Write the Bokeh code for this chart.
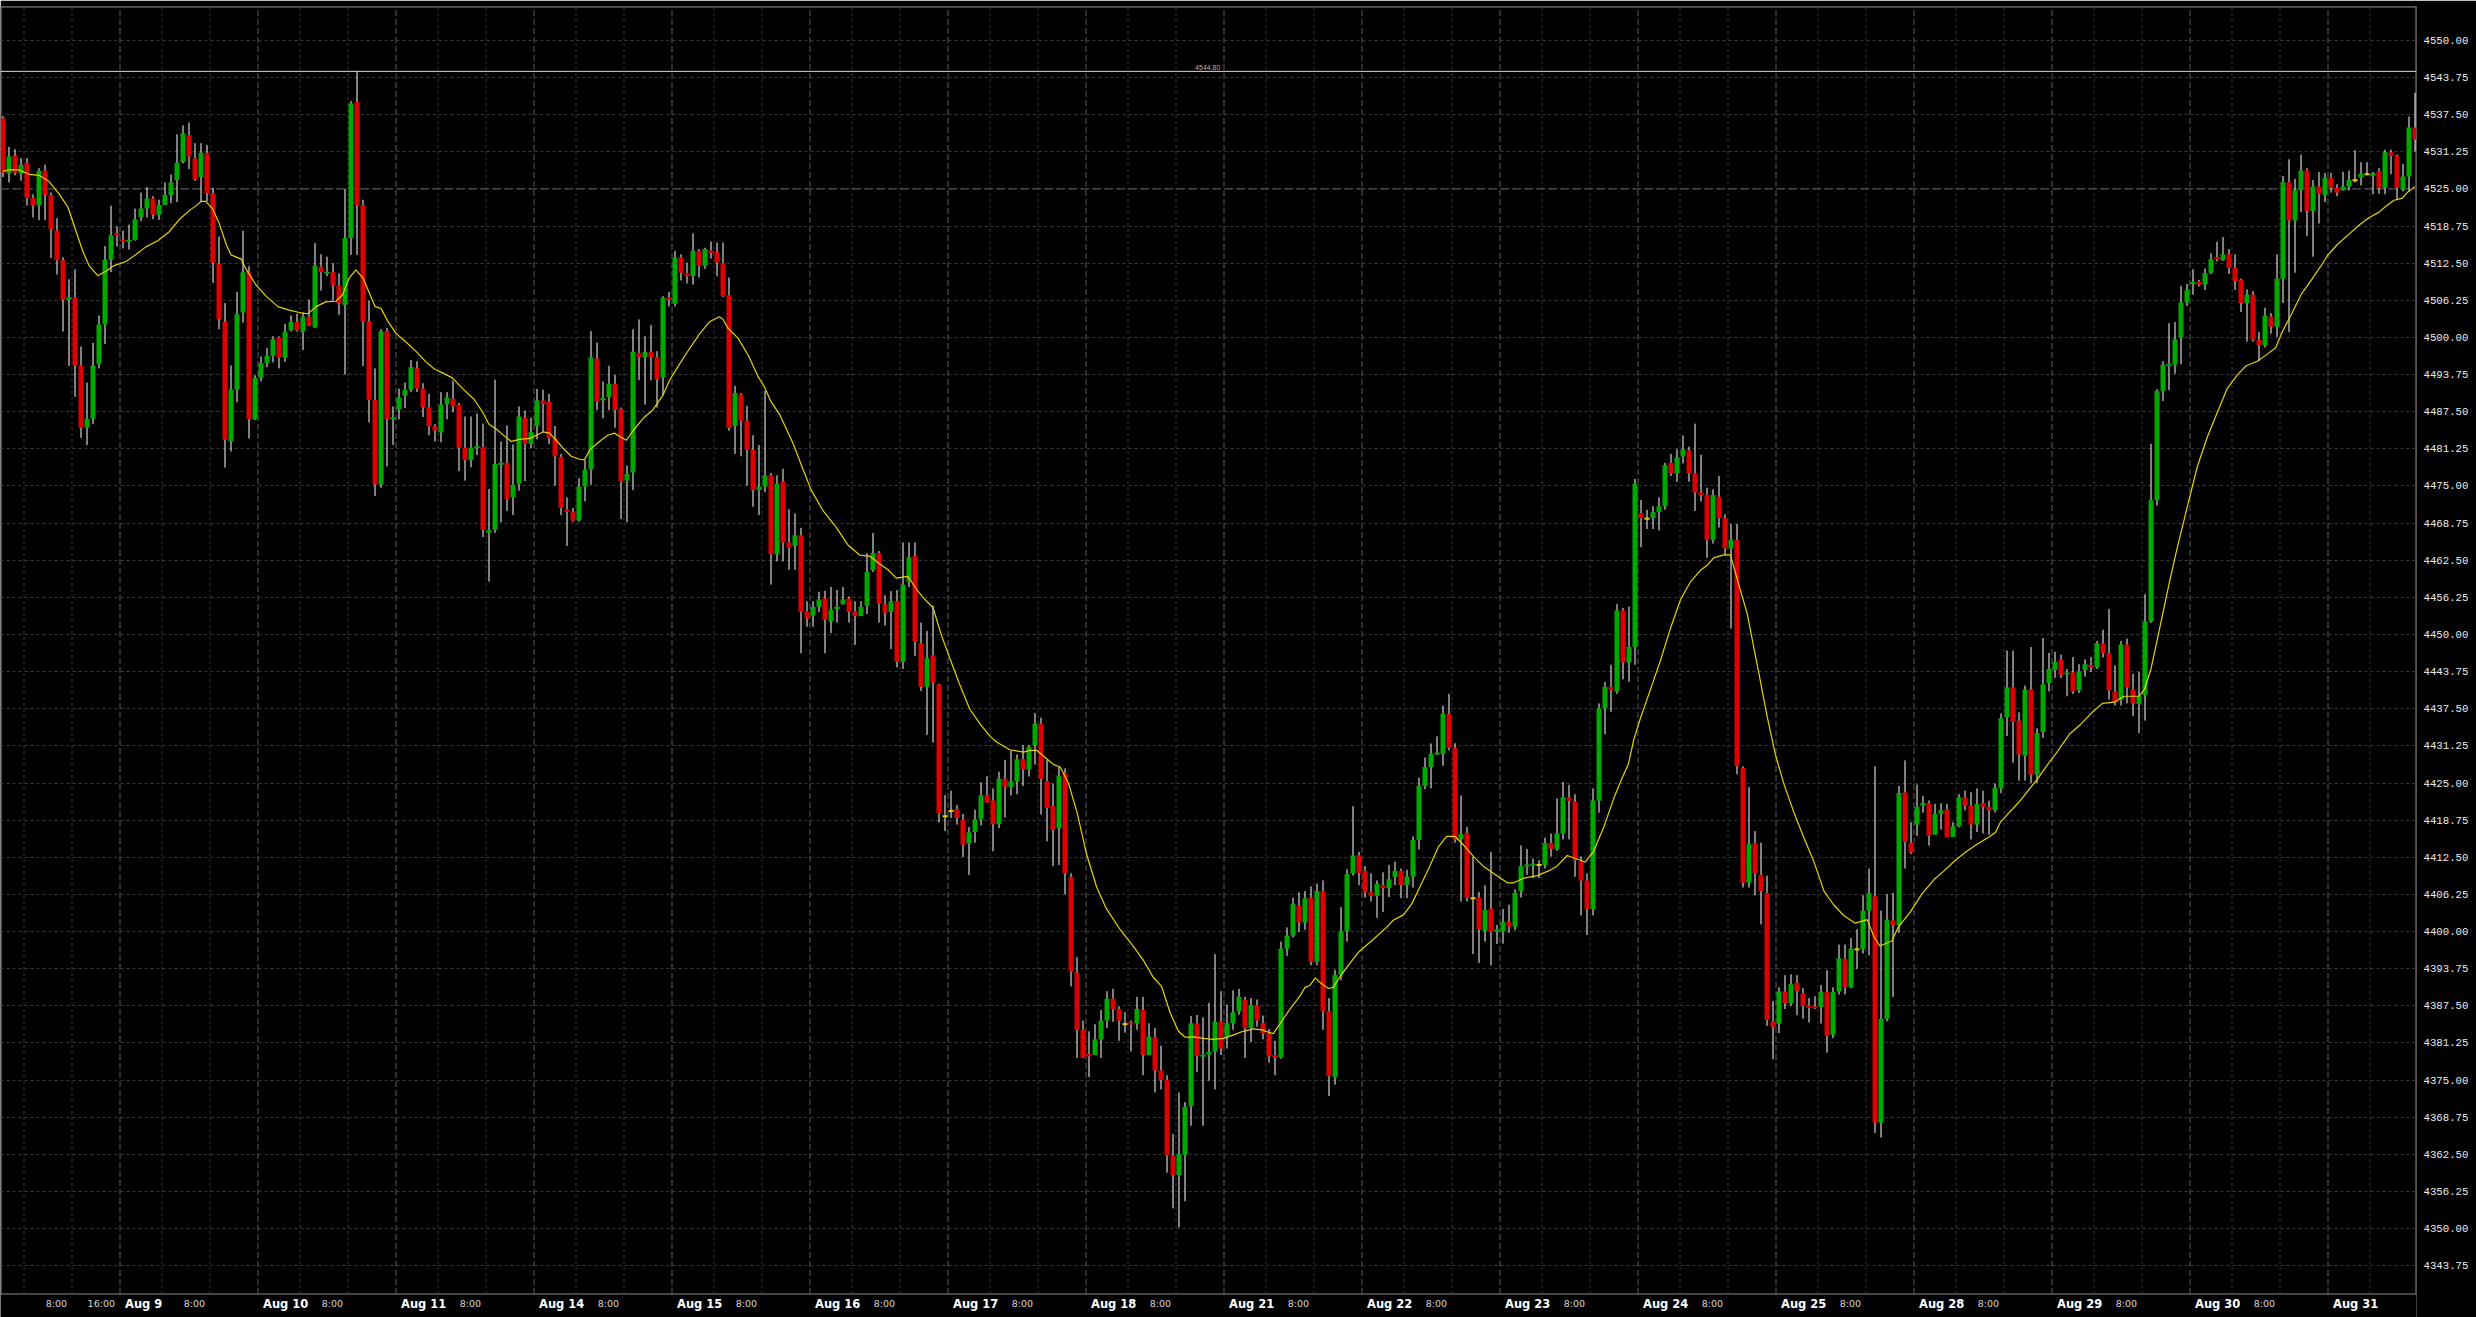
from bokeh.plotting import figure
from bokeh.models import ColumnDataSource, FixedTicker, Span, Label, NumeralTickFormatter
from bokeh.core.properties import value
from bokeh.embed import file_html
from bokeh.resources import INLINE

# ---------------- data (hourly bars, index 0 = first bar) ----------------
opens = [
 4536.9, 4527.6, 4530.6, 4527.6, 4529.4, 4523.5, 4522.2, 4528.05, 4524.0, 4518.0,
 4513.0, 4506.4, 4506.7, 4495.3, 4484.8, 4486.3, 4495.5, 4502.2, 4513.1, 4517.5,
 4516.4, 4516.2, 4516.4, 4520.2, 4521.7, 4523.4, 4520.65, 4522.3, 4524.0, 4526.5,
 4529.55, 4534.1, 4530.15, 4527.0, 4531.1, 4524.3, 4512.4, 4502.6, 4482.5, 4491.25,
 4504.2, 4511.0, 4486.25, 4493.2, 4495.7, 4496.9, 4500.0, 4496.6, 4501.2, 4502.6,
 4501.0, 4503.5, 4501.7, 4511.9, 4510.8, 4511.0, 4508.8, 4505.5, 4516.75, 4539.65,
 4522.3, 4502.7, 4489.5, 4475.25, 4501.1, 4486.25, 4487.9, 4490.2, 4491.2, 4494.8,
 4491.4, 4488.25, 4485.05, 4484.0, 4488.8, 4489.7, 4488.7, 4481.45, 4479.35, 4481.45,
 4481.6, 4467.2, 4467.6, 4478.6, 4478.9, 4473.1, 4475.4, 4486.5, 4482.1, 4485.1,
 4489.4, 4489.2, 4483.05, 4479.9, 4471.0, 4470.6, 4469.2, 4474.9, 4477.75, 4496.45,
 4489.5, 4490.0, 4492.2, 4488.0, 4475.9, 4477.3, 4497.4, 4496.7, 4497.6, 4496.7,
 4493.25, 4506.7, 4505.7, 4513.45, 4510.85, 4510.35, 4514.6, 4512.05, 4514.6, 4514.4,
 4512.5, 4507.1, 4485.1, 4490.4, 4486.0, 4481.1, 4474.3, 4474.9, 4476.8, 4463.5,
 4475.75, 4465.5, 4464.9, 4466.7, 4453.9, 4453.2, 4454.65, 4456.1, 4452.2, 4454.3,
 4455.1, 4456.05, 4453.9, 4453.1, 4454.85, 4460.8, 4463.7, 4455.1, 4453.8, 4455.6,
 4445.4, 4458.9, 4463.2, 4448.5, 4441.2, 4446.5, 4441.6, 4419.4, 4420.3, 4420.6,
 4418.85, 4414.8, 4416.75, 4418.9, 4422.95, 4422.05, 4418.07, 4425.7, 4424.3, 4425.3,
 4429.0, 4427.3, 4431.4, 4435.0, 4425.3, 4421.1, 4417.35, 4426.6, 4409.2, 4393.1,
 4383.45, 4379.4, 4379.2, 4381.85, 4385.0, 4388.7, 4386.95, 4384.4, 4384.6, 4384.5,
 4386.8, 4379.2, 4382.2, 4376.6, 4375.0, 4362.3, 4359.0, 4362.4, 4370.6, 4384.55,
 4379.0, 4379.3, 4379.8, 4384.8, 4382.3, 4384.55, 4386.55, 4388.5, 4383.75, 4387.6,
 4384.55, 4382.8, 4379.2, 4378.8, 4397.1, 4399.3, 4404.4, 4401.5, 4405.7, 4394.9,
 4406.8, 4386.6, 4375.5, 4392.7, 4400.1, 4409.8, 4412.8, 4410.2, 4406.6, 4406.0,
 4407.8, 4407.3, 4409.2, 4410.2, 4407.8, 4409.25, 4415.4, 4424.5, 4427.7, 4429.9,
 4429.9, 4436.65, 4430.9, 4415.5, 4416.6, 4405.6, 4405.7, 4400.1, 4403.85, 4400.0,
 4400.0, 4401.6, 4400.8, 4406.8, 4411.0, 4411.2, 4411.2, 4411.2, 4414.9, 4413.9,
 4416.5, 4422.6, 4421.8, 4411.8, 4408.6, 4403.8, 4422.0, 4437.55, 4441.2, 4440.4,
 4454.05, 4445.3, 4447.9, 4470.45, 4469.5, 4469.6, 4470.6, 4471.6, 4478.9, 4477.1,
 4480.0, 4481.0, 4477.1, 4473.9, 4473.5, 4465.95, 4473.2, 4469.6, 4464.5, 4465.9,
 4427.5, 4408.2, 4414.9, 4409.55, 4406.5, 4384.9, 4384.5, 4389.9, 4387.9, 4391.4,
 4389.6, 4387.5, 4387.3, 4387.3, 4389.8, 4382.6, 4389.9, 4395.4, 4390.6, 4397.0,
 4397.0, 4403.5, 4405.95, 4367.8, 4385.3, 4401.9, 4401.1, 4423.4, 4414.95, 4418.0,
 4421.2, 4421.6, 4416.3, 4419.8, 4420.6, 4415.9, 4417.7, 4422.6, 4421.2, 4418.0,
 4421.6, 4421.0, 4420.4, 4424.1, 4436.1, 4441.1, 4435.5, 4429.6, 4440.75, 4426.4,
 4433.6, 4441.8, 4444.0, 4445.8, 4443.4, 4443.6, 4440.6, 4444.0, 4444.8, 4444.5,
 4448.5, 4446.9, 4440.4, 4439.05, 4448.3, 4440.75, 4438.3, 4439.8, 4452.2, 4472.6,
 4491.0, 4495.3, 4495.4, 4500.0, 4505.9, 4509.0, 4509.4, 4508.9, 4510.9, 4513.5,
 4513.0, 4514.0, 4511.7, 4509.7, 4505.8, 4507.2, 4499.6, 4498.7, 4503.5, 4501.8,
 4509.9, 4526.15, 4519.7, 4524.8, 4528.1, 4521.3, 4525.4, 4524.0, 4526.9, 4525.15,
 4524.8, 4525.4, 4526.45, 4526.9, 4527.5, 4527.3, 4528.0, 4525.15, 4531.2, 4530.55,
 4524.9, 4527.1, 4535.35]

highs = [
 4537.25, 4532.1, 4531.7, 4530.2, 4530.2, 4524.1, 4528.5, 4529.1, 4524.4, 4520.1,
 4513.5, 4509.8, 4511.5, 4498.5, 4492.4, 4499.1, 4503.7, 4515.4, 4522.2, 4518.7,
 4518.0, 4519.0, 4521.7, 4524.4, 4525.3, 4523.8, 4523.2, 4526.1, 4527.45, 4534.2,
 4535.7, 4536.2, 4532.7, 4532.7, 4532.4, 4525.2, 4517.0, 4505.8, 4495.3, 4507.7,
 4518.0, 4512.0, 4493.65, 4496.8, 4498.2, 4500.2, 4500.2, 4502.3, 4503.7, 4504.0,
 4504.2, 4506.4, 4515.9, 4514.0, 4513.6, 4512.5, 4510.8, 4525.0, 4539.8, 4544.8,
 4523.2, 4506.2, 4494.8, 4501.4, 4501.6, 4488.4, 4491.4, 4492.4, 4496.2, 4496.0,
 4492.3, 4490.5, 4485.4, 4490.8, 4490.8, 4492.75, 4489.0, 4486.7, 4486.7, 4487.2,
 4485.5, 4474.5, 4492.9, 4482.5, 4485.2, 4482.0, 4488.4, 4487.7, 4486.5, 4491.35,
 4491.2, 4490.5, 4485.1, 4480.4, 4473.1, 4471.3, 4476.3, 4479.3, 4501.1, 4499.15,
 4492.6, 4495.25, 4493.7, 4488.2, 4478.45, 4501.4, 4503.05, 4500.2, 4502.1, 4497.7,
 4506.95, 4507.65, 4514.6, 4514.0, 4512.6, 4517.55, 4514.9, 4515.1, 4516.15, 4516.0,
 4516.0, 4510.1, 4491.85, 4490.65, 4488.5, 4483.55, 4481.9, 4491.0, 4477.2, 4476.8,
 4477.9, 4471.1, 4470.4, 4467.95, 4455.6, 4455.6, 4457.2, 4457.35, 4458.0, 4457.5,
 4458.0, 4456.4, 4455.6, 4455.6, 4463.7, 4467.1, 4464.05, 4456.6, 4457.3, 4457.5,
 4465.5, 4465.5, 4465.5, 4452.0, 4450.6, 4454.85, 4441.7, 4422.95, 4423.7, 4421.3,
 4419.8, 4417.6, 4420.5, 4425.1, 4426.15, 4424.1, 4426.9, 4428.9, 4430.5, 4429.8,
 4431.4, 4431.4, 4436.8, 4436.0, 4428.9, 4424.9, 4427.7, 4427.45, 4409.8, 4395.7,
 4385.0, 4383.2, 4384.4, 4386.8, 4389.95, 4390.35, 4387.4, 4386.4, 4385.0, 4389.0,
 4389.0, 4384.55, 4383.75, 4380.8, 4375.8, 4365.9, 4372.9, 4371.3, 4385.8, 4385.95,
 4385.55, 4388.0, 4396.2, 4389.95, 4387.7, 4390.1, 4390.35, 4389.0, 4388.8, 4388.55,
 4385.85, 4383.6, 4381.6, 4398.3, 4400.7, 4405.7, 4406.6, 4406.8, 4407.6, 4408.05,
 4408.6, 4388.8, 4393.55, 4404.1, 4410.5, 4421.1, 4413.4, 4411.0, 4409.8, 4408.6,
 4409.95, 4411.2, 4411.8, 4410.6, 4410.4, 4416.0, 4425.9, 4429.3, 4431.65, 4432.85,
 4438.0, 4440.0, 4431.7, 4422.9, 4417.6, 4412.6, 4406.65, 4407.8, 4413.4, 4401.1,
 4403.8, 4404.5, 4407.1, 4414.5, 4413.9, 4412.25, 4412.0, 4415.8, 4416.5, 4422.4,
 4425.2, 4424.7, 4423.1, 4412.65, 4409.8, 4424.1, 4438.4, 4442.0, 4444.9, 4455.1,
 4454.45, 4454.7, 4476.2, 4472.65, 4471.0, 4471.6, 4473.1, 4478.9, 4480.4, 4481.2,
 4483.5, 4481.6, 4485.5, 4480.25, 4474.7, 4474.45, 4476.7, 4470.2, 4468.6, 4468.6,
 4427.8, 4424.3, 4416.9, 4414.95, 4409.4, 4388.3, 4390.6, 4392.65, 4392.8, 4392.65,
 4390.45, 4388.8, 4389.1, 4391.0, 4393.5, 4390.6, 4397.8, 4397.8, 4398.9, 4400.4,
 4406.1, 4410.6, 4427.8, 4403.5, 4406.3, 4406.5, 4424.5, 4428.8, 4418.4, 4424.75,
 4422.85, 4422.05, 4421.5, 4421.6, 4421.5, 4418.4, 4423.1, 4423.7, 4423.45, 4424.1,
 4423.7, 4422.05, 4424.9, 4436.7, 4447.3, 4447.3, 4436.9, 4441.4, 4447.9, 4434.2,
 4449.4, 4446.9, 4447.1, 4446.6, 4444.2, 4446.2, 4445.0, 4445.8, 4446.2, 4448.9,
 4450.8, 4454.3, 4444.8, 4448.9, 4449.3, 4443.4, 4443.7, 4456.8, 4482.1, 4491.3,
 4496.0, 4502.4, 4502.6, 4508.7, 4509.0, 4511.5, 4509.7, 4511.6, 4514.2, 4516.1,
 4516.9, 4514.9, 4514.0, 4509.9, 4508.1, 4507.8, 4500.9, 4505.0, 4504.1, 4514.0,
 4527.2, 4530.0, 4526.7, 4530.8, 4528.5, 4526.5, 4527.85, 4527.7, 4527.7, 4525.8,
 4527.9, 4528.1, 4531.5, 4529.5, 4529.5, 4527.9, 4528.5, 4531.6, 4531.6, 4530.8,
 4529.2, 4537.2, 4541.2]

lows = [
 4527.0, 4526.1, 4527.3, 4526.4, 4522.2, 4520.2, 4519.75, 4519.75, 4513.4, 4510.6,
 4501.0, 4495.2, 4490.0, 4483.1, 4481.9, 4485.4, 4494.8, 4498.9, 4511.0, 4515.3,
 4515.0, 4514.8, 4516.3, 4519.6, 4520.2, 4519.9, 4519.8, 4522.3, 4522.6, 4522.8,
 4529.3, 4528.35, 4526.4, 4522.9, 4522.9, 4509.2, 4501.4, 4478.1, 4480.8, 4489.1,
 4502.5, 4483.0, 4486.1, 4492.6, 4495.0, 4495.8, 4494.8, 4495.9, 4501.0, 4501.0,
 4497.9, 4501.9, 4501.6, 4507.9, 4510.3, 4506.2, 4503.8, 4493.8, 4513.9, 4513.9,
 4495.2, 4485.7, 4473.3, 4474.7, 4478.3, 4481.9, 4486.2, 4488.1, 4490.8, 4490.8,
 4486.6, 4483.55, 4482.5, 4482.35, 4486.25, 4487.45, 4477.5, 4475.9, 4478.15, 4480.2,
 4466.4, 4458.9, 4467.1, 4468.9, 4470.8, 4470.1, 4474.2, 4475.8, 4481.4, 4482.85,
 4484.1, 4482.1, 4475.05, 4470.1, 4464.9, 4469.0, 4469.0, 4472.4, 4475.2, 4487.8,
 4486.4, 4487.8, 4484.8, 4469.4, 4468.9, 4474.3, 4492.8, 4488.7, 4492.8, 4488.2,
 4490.3, 4505.2, 4505.2, 4509.6, 4509.1, 4508.9, 4510.1, 4511.55, 4513.3, 4510.3,
 4506.8, 4484.3, 4480.4, 4480.0, 4475.05, 4471.5, 4470.1, 4474.0, 4458.4, 4462.3,
 4462.3, 4460.9, 4460.9, 4446.85, 4451.3, 4451.3, 4453.8, 4446.85, 4450.25, 4452.0,
 4455.0, 4452.0, 4448.25, 4453.1, 4453.45, 4460.5, 4452.0, 4451.5, 4447.55, 4444.45,
 4444.2, 4458.0, 4446.35, 4440.5, 4433.1, 4431.8, 4418.35, 4416.9, 4419.1, 4418.0,
 4412.55, 4409.5, 4414.95, 4417.85, 4421.7, 4413.5, 4417.4, 4419.2, 4422.9, 4423.1,
 4424.5, 4426.1, 4428.1, 4419.7, 4415.2, 4411.0, 4411.2, 4406.25, 4390.75, 4378.7,
 4378.7, 4375.5, 4379.2, 4378.7, 4383.75, 4384.8, 4381.6, 4382.95, 4379.8, 4383.45,
 4375.8, 4379.2, 4372.9, 4373.4, 4359.4, 4353.4, 4350.2, 4354.6, 4367.3, 4376.3,
 4367.3, 4374.9, 4373.4, 4379.2, 4380.3, 4383.45, 4386.0, 4378.7, 4381.4, 4384.0,
 4381.85, 4377.9, 4375.8, 4378.6, 4395.9, 4399.0, 4399.9, 4400.3, 4394.3, 4394.3,
 4383.45, 4372.3, 4374.2, 4391.8, 4398.3, 4409.4, 4407.8, 4405.7, 4405.05, 4402.3,
 4403.3, 4405.8, 4407.8, 4405.6, 4405.6, 4407.4, 4413.8, 4423.95, 4424.1, 4429.7,
 4427.9, 4430.5, 4414.95, 4405.05, 4405.05, 4396.2, 4394.7, 4398.3, 4394.3, 4397.9,
 4397.95, 4399.8, 4400.2, 4405.7, 4409.55, 4409.0, 4409.0, 4410.6, 4412.6, 4413.6,
 4415.5, 4415.5, 4409.2, 4402.7, 4399.4, 4402.7, 4420.0, 4433.2, 4437.0, 4440.0,
 4442.45, 4442.05, 4444.9, 4464.7, 4467.75, 4467.75, 4467.5, 4471.0, 4476.7, 4475.7,
 4478.8, 4475.7, 4470.8, 4472.4, 4462.9, 4465.3, 4468.0, 4463.3, 4451.0, 4426.5,
 4407.4, 4407.4, 4406.1, 4401.2, 4384.1, 4378.5, 4382.9, 4386.95, 4387.5, 4385.9,
 4385.3, 4384.7, 4386.95, 4384.5, 4379.6, 4382.05, 4389.4, 4389.4, 4390.45, 4393.7,
 4396.3, 4396.0, 4366.1, 4365.3, 4384.9, 4389.0, 4399.8, 4410.6, 4413.05, 4416.1,
 4420.0, 4414.45, 4416.3, 4417.15, 4415.9, 4415.9, 4417.55, 4420.4, 4415.5, 4416.75,
 4416.5, 4416.3, 4420.0, 4423.3, 4432.9, 4428.4, 4425.4, 4425.4, 4425.0, 4425.0,
 4432.6, 4440.4, 4442.7, 4442.7, 4439.6, 4440.0, 4440.15, 4442.9, 4443.7, 4444.2,
 4446.15, 4439.05, 4438.05, 4438.05, 4438.4, 4436.3, 4433.4, 4435.5, 4451.95, 4471.7,
 4489.3, 4491.15, 4493.9, 4495.5, 4505.3, 4507.2, 4508.6, 4508.0, 4510.7, 4512.8,
 4512.9, 4510.7, 4508.0, 4504.3, 4499.3, 4499.3, 4496.0, 4498.3, 4500.65, 4500.1,
 4505.8, 4500.9, 4510.9, 4521.1, 4517.1, 4513.6, 4519.2, 4522.8, 4524.4, 4523.8,
 4524.7, 4524.75, 4526.1, 4525.6, 4527.3, 4524.1, 4524.2, 4524.1, 4527.5, 4523.1,
 4524.6, 4524.6, 4531.3]

closes = [
 4527.75, 4530.45, 4527.75, 4529.1, 4523.5, 4522.2, 4528.05, 4524.0, 4518.25, 4513.0,
 4506.4, 4506.7, 4495.3, 4484.8, 4486.3, 4495.3, 4502.2, 4513.1, 4517.2, 4517.2,
 4516.2, 4516.4, 4519.9, 4521.7, 4523.4, 4520.65, 4522.3, 4524.0, 4526.1, 4529.4,
 4534.4, 4530.45, 4526.7, 4531.1, 4524.3, 4512.6, 4503.1, 4482.8, 4491.25, 4503.9,
 4511.0, 4486.25, 4493.2, 4495.7, 4496.9, 4499.7, 4496.6, 4501.0, 4502.6, 4501.2,
 4503.5, 4502.0, 4512.1, 4511.0, 4511.0, 4508.8, 4505.8, 4516.75, 4539.4, 4522.3,
 4502.7, 4489.5, 4475.25, 4501.0, 4486.25, 4486.5, 4489.9, 4491.2, 4495.0, 4491.4,
 4488.25, 4485.05, 4484.3, 4488.7, 4489.9, 4488.4, 4481.45, 4479.35, 4481.45, 4481.6,
 4467.6, 4467.5, 4478.7, 4478.9, 4472.8, 4475.2, 4486.7, 4482.1, 4484.1, 4489.4,
 4488.8, 4483.05, 4480.0, 4471.3, 4470.7, 4469.2, 4474.9, 4477.75, 4496.65, 4489.2,
 4489.7, 4492.2, 4487.8, 4475.75, 4477.0, 4497.6, 4496.7, 4497.6, 4496.7, 4492.9,
 4506.7, 4506.4, 4513.45, 4510.9, 4510.3, 4514.6, 4512.05, 4514.9, 4514.25, 4512.6,
 4506.95, 4484.75, 4490.65, 4486.0, 4481.1, 4474.3, 4474.9, 4476.8, 4463.5, 4475.4,
 4465.5, 4464.6, 4466.7, 4453.8, 4452.7, 4454.65, 4455.9, 4452.5, 4454.15, 4454.65,
 4455.9, 4453.8, 4453.1, 4454.65, 4460.5, 4463.7, 4455.2, 4453.65, 4455.6, 4445.4,
 4458.4, 4463.0, 4448.8, 4441.2, 4446.0, 4441.9, 4419.9, 4419.4, 4420.3, 4419.1,
 4414.6, 4416.7, 4418.9, 4422.95, 4421.7, 4418.07, 4425.7, 4424.3, 4425.3, 4429.0,
 4427.3, 4431.1, 4435.0, 4425.7, 4420.8, 4417.1, 4426.2, 4409.8, 4393.3, 4383.45,
 4378.8, 4379.0, 4381.85, 4385.0, 4388.7, 4386.95, 4385.0, 4384.4, 4384.4, 4386.95,
 4379.2, 4382.3, 4376.6, 4375.0, 4362.3, 4359.0, 4362.55, 4370.5, 4384.55, 4379.0,
 4379.2, 4379.7, 4384.8, 4380.3, 4384.55, 4386.4, 4389.0, 4383.75, 4387.6, 4385.0,
 4382.8, 4379.0, 4378.8, 4397.1, 4399.3, 4404.65, 4401.5, 4405.6, 4394.9, 4406.8,
 4386.6, 4375.65, 4392.7, 4400.1, 4409.65, 4412.8, 4409.8, 4406.6, 4406.0, 4408.05,
 4407.3, 4408.8, 4410.2, 4407.8, 4409.25, 4415.4, 4424.5, 4427.7, 4429.9, 4430.0,
 4436.65, 4430.9, 4415.5, 4416.4, 4405.7, 4405.6, 4400.3, 4403.6, 4399.9, 4400.3,
 4401.6, 4400.8, 4406.5, 4411.0, 4411.2, 4411.3, 4411.2, 4414.9, 4413.9, 4416.5,
 4422.6, 4422.0, 4412.0, 4408.6, 4403.8, 4422.05, 4437.55, 4441.2, 4440.6, 4454.05,
 4445.3, 4447.9, 4475.35, 4469.6, 4469.5, 4470.6, 4471.6, 4478.5, 4477.1, 4479.8,
 4481.2, 4477.1, 4473.9, 4473.5, 4465.95, 4473.5, 4469.6, 4464.5, 4466.0, 4427.8,
 4408.2, 4414.7, 4409.8, 4406.8, 4385.1, 4383.9, 4389.9, 4387.9, 4391.2, 4390.0,
 4387.5, 4387.2, 4387.2, 4389.8, 4382.45, 4389.8, 4395.5, 4390.6, 4397.15, 4397.0,
 4403.5, 4406.5, 4367.8, 4385.3, 4402.0, 4401.1, 4423.3, 4415.1, 4413.3, 4421.0,
 4421.6, 4416.1, 4419.8, 4420.4, 4415.9, 4417.7, 4422.6, 4421.2, 4418.0, 4421.5,
 4421.0, 4420.4, 4424.2, 4435.9, 4441.1, 4435.3, 4429.8, 4440.75, 4426.4, 4433.4,
 4441.6, 4444.2, 4445.4, 4443.2, 4443.5, 4440.4, 4443.85, 4445.0, 4444.5, 4448.5,
 4446.9, 4440.6, 4438.6, 4448.3, 4441.1, 4438.4, 4439.6, 4452.2, 4472.6, 4491.0,
 4495.4, 4495.5, 4499.7, 4505.9, 4508.0, 4509.3, 4508.9, 4510.85, 4513.2, 4513.2,
 4514.0, 4511.7, 4509.5, 4505.8, 4507.2, 4499.6, 4498.7, 4503.7, 4501.8, 4509.9,
 4526.15, 4519.7, 4524.8, 4528.1, 4521.3, 4525.4, 4524.2, 4526.9, 4525.15, 4524.4,
 4525.4, 4526.5, 4526.45, 4527.6, 4527.5, 4527.6, 4525.15, 4531.2, 4530.55, 4525.15,
 4527.1, 4535.35, 4533.3]

# moving average (yellow line) read at bar positions
ma_bar = [
 0, 1.0, 2.7, 4.4, 6.0, 7.7, 9.4, 10.8, 12.2, 13.3, 14.4, 15.8, 17.2, 18.5, 20.5, 22.2, 23.8,
 25.8, 27.7, 29.4, 31.1, 32.2, 33.0, 33.8, 34.9, 36.0, 37.2, 38.0, 39.7, 40.5, 42.2, 43.8, 45.8,
 47.7, 49.4, 50.8, 52.2, 53.8, 55.5, 56.6, 57.7, 58.8, 60.0, 61.0, 62.0, 63.0, 64.1, 65.5, 67.2,
 68.8, 70.5, 71.9, 73.3, 74.9, 76.6, 78.5, 79.9, 81.0, 82.2, 83.6, 84.7, 86.1, 87.8, 88.9, 90.0,
 91.1, 92.2, 93.3, 94.7, 96.1, 96.9, 97.8, 99.4, 100.8, 101.9, 103.0, 103.9, 105.0, 106.7, 108.3,
 110.0, 111.1, 112.8, 114.4, 116.1, 117.8, 119.4, 120.0, 120.8, 122.5, 124.2, 125.8, 126.9, 128.0,
 129.4, 131.7, 133.3, 134.7, 136.7, 138.9, 140.8, 142.8, 144.4, 146.1, 147.5, 148.9, 150.8, 152.2,
 153.3, 155.0, 156.4, 157.8, 159.4, 161.1, 162.8, 164.5, 165.6, 167.8, 170.1, 171.2, 172.3, 173.7,
 175.1, 176.2, 177.6, 179.0, 180.6, 182.3, 183.9, 186.2, 188.4, 190.1, 191.7, 193.1, 194.5, 195.9,
 197.0, 198.4, 200.1, 201.7, 203.4, 205.1, 206.7, 208.4, 209.8, 210.9, 211.7, 212.8, 214.5, 216.2,
 217.0, 217.8, 218.7, 219.5, 220.9, 221.7, 222.8, 224.2, 225.9, 228.4, 230.6, 231.7, 233.4, 234.8,
 236.2, 237.8, 239.2, 240.6, 242.0, 243.4, 245.1, 246.7, 248.4, 250.7, 251.8, 253.5, 255.7, 257.6,
 259.0, 260.7, 262.3, 263.7, 265.1, 266.8, 268.5, 269.8, 270.9, 271.8, 272.9, 274.6, 276.2, 277.9,
 279.6, 281.2, 282.9, 284.0, 285.1, 286.8, 287.9, 289.3, 290.7, 292.6, 294.0, 295.4, 296.8, 298.5,
 300.1, 301.8, 303.5, 305.1, 306.8, 308.7, 310.7, 311.8, 312.8, 313.7, 314.8, 315.9, 317.9, 319.8,
 321.8, 323.5, 325.4, 327.3, 329.0, 331.0, 332.1, 332.9, 336.0, 339.1, 340.7, 342.4, 344.4, 346.3,
 348.2, 349.9, 351.9, 353.5, 355.2, 356.0, 356.9, 358.0, 359.4, 361.0, 362.4, 364.1, 365.7, 367.4,
 369.1, 370.7, 372.4, 373.8, 375.7, 377.4, 378.8, 379.9, 381.3, 383.0, 384.6, 386.3, 387.4, 389.1,
 391.0, 393.0, 394.4, 396.0, 397.1, 398.5, 399.9, 400.7, 402.0]
ma_value = [
 4528.0, 4528.2, 4528.2, 4527.45, 4527.3, 4526.25, 4524.1, 4522.0, 4517.8, 4514.5, 4512.0, 4510.4,
 4511.2, 4512.1, 4512.8, 4514.0, 4515.25, 4516.3, 4517.8, 4519.9, 4521.4, 4522.2, 4522.9, 4522.9,
 4521.7, 4519.3, 4515.7, 4513.9, 4513.2, 4511.5, 4508.8, 4507.0, 4505.2, 4504.6, 4504.2, 4504.0,
 4505.2, 4506.0, 4506.1, 4507.2, 4510.0, 4511.4, 4510.0, 4507.6, 4505.2, 4504.9, 4502.8, 4500.7,
 4499.2, 4497.7, 4495.9, 4494.7, 4494.0, 4493.2, 4491.4, 4489.6, 4487.5, 4485.4, 4484.6, 4483.4,
 4482.5, 4482.85, 4483.0, 4483.55, 4484.1, 4483.9, 4482.7, 4481.4, 4480.0, 4479.5, 4479.4, 4481.1,
 4482.5, 4483.55, 4483.9, 4483.2, 4482.7, 4484.3, 4486.4, 4487.8, 4490.3, 4492.8, 4495.6, 4498.1,
 4500.6, 4502.7, 4503.5, 4503.05, 4501.6, 4499.9, 4497.0, 4493.5, 4491.7, 4489.2, 4487.1, 4482.1,
 4477.9, 4474.3, 4470.8, 4468.0, 4465.1, 4463.35, 4463.2, 4461.9, 4460.9, 4459.5, 4459.8, 4457.7,
 4456.3, 4454.5, 4449.9, 4446.0, 4441.7, 4437.5, 4435.0, 4432.9, 4431.9, 4430.6, 4430.2, 4430.5,
 4430.5, 4429.3, 4428.1, 4427.7, 4424.9, 4420.1, 4413.0, 4407.4, 4403.85, 4400.3, 4397.5, 4395.1,
 4392.3, 4390.75, 4386.4, 4383.2, 4382.2, 4382.25, 4382.0, 4381.85, 4382.0, 4382.6, 4383.2, 4383.6,
 4383.45, 4383.05, 4382.8, 4384.4, 4386.95, 4389.2, 4390.6, 4390.9, 4392.2, 4391.4, 4390.4, 4390.6,
 4392.35, 4394.3, 4396.5, 4398.7, 4400.7, 4401.9, 4402.8, 4404.65, 4407.6, 4411.0, 4414.2, 4416.0,
 4416.0, 4414.6, 4412.6, 4411.0, 4409.8, 4408.2, 4408.2, 4409.0, 4409.4, 4410.2, 4411.0, 4412.8,
 4412.2, 4411.7, 4413.5, 4417.6, 4422.5, 4425.7, 4428.2, 4432.3, 4435.9, 4440.8, 4445.5, 4451.0,
 4455.9, 4458.8, 4460.8, 4461.6, 4462.9, 4463.4, 4463.4, 4458.4, 4453.5, 4443.7, 4436.3, 4429.8,
 4424.9, 4420.0, 4415.9, 4411.8, 4406.8, 4404.5, 4402.7, 4401.4, 4402.0, 4399.2, 4397.55, 4397.95,
 4398.4, 4400.8, 4403.3, 4406.3, 4408.7, 4410.2, 4412.0, 4413.5, 4414.7, 4415.9, 4416.7, 4418.4,
 4421.8, 4425.7, 4428.0, 4430.3, 4433.2, 4434.9, 4436.9, 4438.4, 4438.6, 4439.6, 4439.6, 4439.6,
 4440.75, 4444.2, 4450.8, 4458.5, 4464.7, 4471.7, 4478.2, 4483.3, 4487.5, 4491.4, 4493.7, 4495.2,
 4496.0, 4497.2, 4498.3, 4501.0, 4503.7, 4507.2, 4509.5, 4512.0, 4513.8, 4515.7, 4517.4, 4519.2,
 4520.2, 4521.1, 4522.05, 4523.1, 4523.45, 4524.4, 4525.4]

day_labels = ["Aug 9", "Aug 10", "Aug 11", "Aug 14", "Aug 15", "Aug 16", "Aug 17", "Aug 18",
              "Aug 21", "Aug 22", "Aug 23", "Aug 24", "Aug 25", "Aug 28", "Aug 29", "Aug 30", "Aug 31"]
day_first_bar = [20, 43, 66, 89, 112, 135, 158, 181, 204, 227, 250, 273, 296, 319, 342, 365, 388]
first_session_bar = -3          # the Aug 8 session opened 3 bars before the chart starts
bars_to_midnight = 7            # session opens 17:00 -> 0:00 is 7 bars later
bars_to_0800 = 15               # 8:00 is 15 bars after the session open

price_ticks = [4343.75, 4350.00, 4356.25, 4362.50, 4368.75, 4375.00, 4381.25, 4387.50, 4393.75,
               4400.00, 4406.25, 4412.50, 4418.75, 4425.00, 4431.25, 4437.50, 4443.75, 4450.00,
               4456.25, 4462.50, 4468.75, 4475.00, 4481.25, 4487.50, 4493.75, 4500.00, 4506.25,
               4512.50, 4518.75, 4525.00, 4531.25, 4537.50, 4543.75, 4550.00]
session_high = 4544.80
round_level = 4525.00

# ---------------- layout ----------------
W, H = 2476, 1317
B_RIGHT, B_TOP = 60, 6
AXIS_STRIP = 24                       # time-label strip at the bottom (inside the frame)
PRICE_LO, PRICE_HI = 4339.06, 4555.72  # visible price band
BAR_PX = 6                            # pixels per hourly bar
FIRST_BAR_PX = 2.5                    # centre of bar 0 from the left edge

frame_w = W - B_RIGHT
frame_h = H - B_TOP
bpp = 1.0 / BAR_PX                                     # bars per pixel
X0 = -FIRST_BAR_PX * bpp
X1 = X0 + frame_w * bpp
upp = (PRICE_HI - PRICE_LO) / (frame_h - AXIS_STRIP)   # price units per pixel
Y0 = PRICE_LO - AXIS_STRIP * upp
Y1 = PRICE_HI

p = figure(width=W, height=H, x_range=(X0, X1), y_range=(Y0, Y1),
           x_axis_type=None, y_axis_location="right",
           output_backend="svg", toolbar_location=None,
           background_fill_color="#000000", border_fill_color="#000000",
           min_border_left=0, min_border_top=B_TOP,
           min_border_right=B_RIGHT, min_border_bottom=0,
           outline_line_color=None)

# price axis on the right
p.yaxis.ticker = FixedTicker(ticks=price_ticks)
p.yaxis.formatter = NumeralTickFormatter(format="0.00")
p.yaxis.major_label_text_font = "Liberation Mono"
p.yaxis.major_label_text_font_size = "10.7px"
p.yaxis.major_label_text_color = "#ececec"
p.yaxis.axis_line_color = None
p.yaxis.major_tick_line_color = None
p.yaxis.minor_tick_line_color = None
p.yaxis.major_tick_out = 0
p.yaxis.major_tick_in = 0
p.yaxis.major_label_standoff = 7
p.ygrid.ticker = FixedTicker(ticks=price_ticks)
p.ygrid.grid_line_color = "#3a3a3a"
p.ygrid.grid_line_dash = "3 3"
p.ygrid.grid_line_width = 1

# chart border (left, top, right, bottom axis line)
border = "#8a8a8a"
xl, xr = X0 + 0.5 * bpp, X1 - 0.5 * bpp
yt = Y1 - 0.5 * upp
yb = PRICE_LO - 0.5 * upp
p.segment(x0=[xl, xl, xr, X0], y0=[yb, yt, yb, yb],
          x1=[xl, X1, xr, X1], y1=[yt, yt, Y1, yb],
          line_color=border, line_width=1, level="underlay")

# vertical grid: session opens (day lines), midnight and 8:00 lines
day_x, minor_x = [], []
for fb in [first_session_bar] + day_first_bar:
    b = fb - 0.5
    if b > X0:
        day_x.append(b)
    for off in (bars_to_midnight, bars_to_0800):
        if X0 < b + off < X1:
            minor_x.append(b + off)
p.segment(x0=minor_x, y0=[yb] * len(minor_x), x1=minor_x, y1=[Y1] * len(minor_x),
          line_color="#383838", line_dash="3 3", line_width=1, level="underlay")
p.segment(x0=day_x, y0=[yb] * len(day_x), x1=day_x, y1=[Y1] * len(day_x),
          line_color="#5c5c5c", line_dash="6 3", line_width=1, level="underlay")

p.add_layout(Span(location=round_level, dimension="width", line_color="#606060",
                  line_dash="8 4", line_width=1, level="underlay"))

# ---------------- candles ----------------
n = len(closes)
idx = list(range(n))
up, down, flat = "#00a800", "#dc0000", "#e6d200"
colors = [up if c > o else (down if c < o else flat) for o, c in zip(opens, closes)]
src = ColumnDataSource(dict(
    x=idx, o=opens, h=[max(hh, o, c) for hh, o, c in zip(highs, opens, closes)],
    l=[min(ll, o, c) for ll, o, c in zip(lows, opens, closes)], c=closes,
    top=[max(o, c) for o, c in zip(opens, closes)],
    bot=[min(o, c) for o, c in zip(opens, closes)], color=colors))

p.segment(x0="x", y0="l", x1="x", y1="h", line_color="#ffffff", line_width=1, source=src)
p.vbar(x="x", width=5 * bpp, top="top", bottom="bot", fill_color="color",
       line_color=None, source=src)

# very small bodies (and dojis) shown as a short horizontal dash
thin = [i for i in idx if abs(opens[i] - closes[i]) < 0.45]
tsrc = ColumnDataSource(dict(
    x0=[i - 2.5 * bpp for i in thin], x1=[i + 2.5 * bpp for i in thin],
    y=[(opens[i] + closes[i]) / 2 for i in thin], color=[colors[i] for i in thin]))
p.segment(x0="x0", y0="y", x1="x1", y1="y", line_color="color", line_width=2, source=tsrc)

# moving average
p.line(ma_bar, ma_value, line_color="#e6d200", line_width=1.2)

# session high line with its value
p.add_layout(Span(location=session_high, dimension="width", line_color="#d8d8d8", line_width=1))
p.add_layout(Label(x=202.9, y=session_high, text=f"{session_high:.2f}", text_align="right",
                   text_baseline="bottom", text_font="Liberation Sans", text_font_size="7px",
                   text_color="#b0b0b0", y_offset=1))

# ---------------- time axis labels (in the strip below the price band) ----------------
label_y = PRICE_LO - 10 * upp
gap = 5 * bpp

day_x_lab = [fb - 0.5 + gap for fb in day_first_bar]
p.text(x=day_x_lab, y=[label_y] * len(day_x_lab), text=day_labels,
       text_align="left", text_baseline="middle", text_font=value("DejaVu Sans"),
       text_font_style="bold", text_font_size=value("11.5px"), text_color="#ffffff")

time_x, time_txt = [], []
time_x.append(first_session_bar - 0.5 + bars_to_0800 - gap); time_txt.append("8:00")
time_x.append(day_first_bar[0] - 0.5 - gap); time_txt.append("16:00")
for fb in day_first_bar:
    t = fb - 0.5 + bars_to_0800 - gap
    if t < X1 - 2:
        time_x.append(t); time_txt.append("8:00")
p.text(x=time_x, y=[label_y] * len(time_x), text=time_txt,
       text_align="right", text_baseline="middle", text_font=value("DejaVu Sans"),
       text_font_size=value("9.5px"), text_color="#d4d4d4")

open("out.html", "w").write(file_html(p, INLINE))
